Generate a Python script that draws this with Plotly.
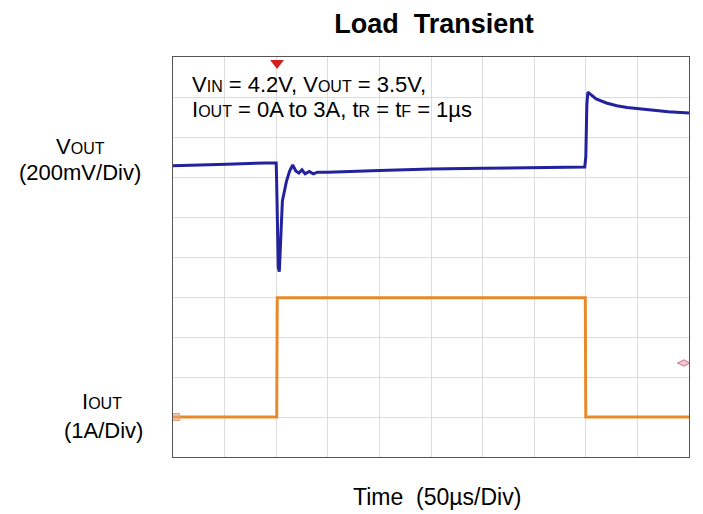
import plotly.graph_objects as go

# Time axis in microseconds (50 us/div, 10 divisions)
vout_t = [0, 26, 50, 52, 89, 100, 100.5, 101, 102, 103, 104, 106, 108, 110, 113, 116, 119, 122, 125, 128, 132,
          136, 140, 150, 200, 250, 300, 350, 399, 400, 401, 402, 405, 410, 420, 430, 440, 460, 480, 500]
# VOUT trace in screen divisions (200 mV/div)
vout_div = [7.28, 7.3, 7.3, 7.32, 7.35, 7.35, 6.8, 5.5, 4.75, 4.63, 5.3, 6.4, 6.65, 6.9, 7.15, 7.3, 7.15, 7.1,
            7.18, 7.08, 7.14, 7.08, 7.12, 7.12, 7.16, 7.2, 7.22, 7.24, 7.25, 7.5, 8.8, 9.12, 9.05, 8.95, 8.85,
            8.78, 8.74, 8.68, 8.63, 8.6]

iout_t = [0, 100.5, 101, 399.5, 400, 500]
# IOUT trace in screen divisions (1 A/div)
iout_div = [1.0, 1.0, 3.98, 3.98, 1.0, 1.0]

x_ticks = [0, 50, 100, 150, 200, 250, 300, 350, 400, 450, 500]
y_ticks = list(range(0, 11))

W, H = 703, 514
L, R, T, B = 173, 14, 57, 57
PW, PH = W - L - R, H - T - B


def px(x):
    return (x - L) / PW


def py(y):
    return (H - B - y) / PH


FONT = "Liberation Sans, Arial, sans-serif"

fig = go.Figure()
fig.add_trace(go.Scatter(x=iout_t, y=iout_div, mode="lines",
                         line=dict(color="#e8892a", width=3), hoverinfo="skip"))
fig.add_trace(go.Scatter(x=vout_t, y=vout_div, mode="lines",
                         line=dict(color="#22229e", width=3), hoverinfo="skip"))
# trigger marker
fig.add_trace(go.Scatter(x=[100.8], y=[9.85], mode="markers", cliponaxis=False,
                         marker=dict(symbol="triangle-down", size=12, color="#d02020"), hoverinfo="skip"))
# channel reference markers
fig.add_trace(go.Scatter(x=[3], y=[1.0], mode="markers", cliponaxis=False,
                         marker=dict(symbol="square", size=7, color="rgba(240,170,120,0.6)",
                                     line=dict(color="#e8a070", width=1)), hoverinfo="skip"))
fig.add_trace(go.Scatter(x=[495], y=[2.35], mode="markers", cliponaxis=False,
                         marker=dict(symbol="diamond-wide", size=9, color="rgba(235,170,200,0.7)",
                                     line=dict(color="#c77", width=1)), hoverinfo="skip"))


def sm(s, size):
    return f"<span style='font-size:{size}px'>{s}</span>"


def label(text, x, y, size, anchor="center"):
    fig.add_annotation(x=px(x), y=py(y), xref="paper", yref="paper", showarrow=False,
                       xanchor=anchor, yanchor="middle", text=text,
                       font=dict(size=size, color="#000", family=FONT))


label(f"V{sm('IN', 16)} = 4.2V, V{sm('OUT', 16)} = 3.5V,", 190, 85, 22, anchor="left")
label(f"I{sm('OUT', 16)} = 0A to 3A, t{sm('R', 16)} = t{sm('F', 16)} = 1\u00b5s", 190, 110, 22, anchor="left")

label(f"V{sm('OUT', 16)}", 80, 146, 22)
label("(200mV/Div)", 80, 172, 22)
label(f"I{sm('OUT', 16)}", 102, 401, 22)
label("(1A/Div)", 103, 430, 22)
label("Time  (50\u00b5s/Div)", 437, 497, 23)

fig.update_layout(
    width=W, height=H,
    margin=dict(l=L, r=R, t=T, b=B),
    paper_bgcolor="white", plot_bgcolor="white",
    showlegend=False,
    font=dict(family=FONT, color="#000"),
    title=dict(text="<b>Load  Transient</b>", x=434 / W, xanchor="center", y=1 - 24 / H, yanchor="middle",
               font=dict(size=27)),
    xaxis=dict(range=[0, 500], tickvals=x_ticks, showticklabels=False, ticks="", showgrid=True,
               gridcolor="#dcdcdc", gridwidth=1, zeroline=False, showline=True, linecolor="#555",
               linewidth=1, mirror=True),
    yaxis=dict(range=[0, 10], tickvals=y_ticks, showticklabels=False, ticks="", showgrid=True,
               gridcolor="#dcdcdc", gridwidth=1, zeroline=False, showline=True, linecolor="#555",
               linewidth=1, mirror=True),
)

fig.write_html("out.html")
